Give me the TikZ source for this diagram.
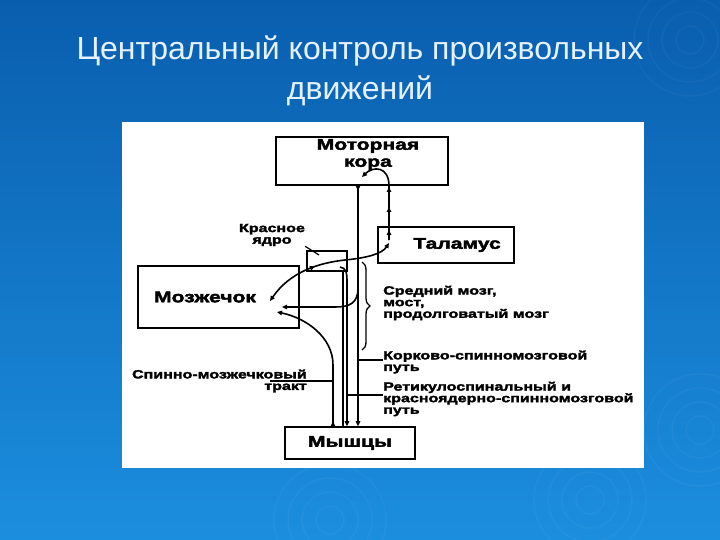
\documentclass[tikz,border=0pt]{standalone}
\usepackage{fontspec}
\setmainfont{Liberation Sans}
\newfontfamily\schemefont[FakeStretch=1.36,FakeBold=2.6]{Liberation Sans}
\usetikzlibrary{arrows.meta,decorations.pathreplacing,decorations.markings}
\definecolor{SlideTop}{HTML}{0A5EAE}
\definecolor{SlideBottom}{HTML}{1C8EDE}
\definecolor{TitleInk}{HTML}{E4F1FF}

\begin{document}
\begin{tikzpicture}[x=1pt,y=-1pt,
  block/.style={draw,line width=1.6pt,inner sep=0pt},
  blocktext/.style={font=\schemefont\bfseries\fontsize{15.5}{17}\selectfont,align=center,inner sep=0pt},
  note/.style={font=\schemefont\bfseries\fontsize{11.8}{11.6}\selectfont,inner sep=0pt},
  tract/.style={line width=1.6pt},
  leader/.style={line width=1.2pt},
  tipend/.style={-{Triangle[length=5pt,width=4.5pt]}},
  tipboth/.style={{Triangle[length=5pt,width=4.5pt]}-{Triangle[length=5pt,width=4.5pt]}},
  tiprev/.style={{Triangle[length=5pt,width=4.5pt,reversed]}-{Triangle[length=5pt,width=4.5pt]}}]
  \useasboundingbox (0,0) rectangle (720,540);
  % slide background
  \shade[top color=SlideTop,bottom color=SlideBottom] (0,0) rectangle (720,540);
  \foreach \cx/\cy in {690/40,700/430,590/500,330/520}
    \foreach \r in {14,28,42,56}
      \draw[white,opacity=0.035,line width=1.5pt] (\cx,\cy) circle (\r pt);
  \node[font=\fontsize{32}{36}\selectfont,text=TitleInk,anchor=base] (titleA) at (360,60) {Центральный контроль произвольных};
  \node[font=\fontsize{32}{36}\selectfont,text=TitleInk,anchor=base] (titleB) at (360,100) {движений};
  \fill[white] (122,122) rectangle (644,468);

  % boxes
  \node[block,minimum width=172pt,minimum height=48pt] (cortex) at (362,161) {};
  \node[blocktext] (cortexText) at (368,154.5) {Моторная\\кора};
  \node[block,minimum width=136pt,minimum height=36pt] (thal) at (446,245) {};
  \node[blocktext] (thalText) at (457,245) {Таламус};
  \node[block,minimum width=161pt,minimum height=62pt] (cb) at (218.5,297) {};
  \node[blocktext] (cbText) at (205,297) {Мозжечок};
  \node[block,line width=1.2pt,minimum width=40pt,minimum height=20pt] (rn) at (327,261) {};
  \node[block,minimum width=130pt,minimum height=32pt] (mu) at (350,443) {};
  \node[blocktext] (muText) at (350,443) {Мышцы};

  % labels
  \node[note,align=center] (rnLabel) at (272,235) {Красное\\ядро};
  \node[note,align=left,anchor=west] (midLabel) at (383,303) {Средний мозг,\\мост,\\продолговатый мозг};
  \node[note,align=left,anchor=west] (csLabel) at (383,362) {Корково-спинномозговой\\путь};
  \node[note,align=left,anchor=west] (rsLabel) at (383,399) {Ретикулоспинальный и\\красноядерно-спинномозговой\\путь};
  \node[note,align=right,anchor=east] (scLabel) at (307,381) {Спинно-мозжечковый\\тракт};

  \coordinate (thIn) at (389,240);
  \coordinate (thEnd) at (389,243);
  \coordinate (cbIn) at (270,301);
  \coordinate (cbSide) at (282,307);
  \coordinate (cbLow) at (277,312);
  \coordinate (csBranch) at (358,288);
  \coordinate (rnOut) at (340,267);
  \coordinate (rnPin) at (319,255);
  \coordinate (scPin) at (333,381);
  \coordinate (csPin) at (358,360);
  \coordinate (rsPin) at (347,395);

  % pathways
  \draw[tract,tiprev] (cortex.south -| 358,0) -- (mu.north -| 358,0);
  \draw[tract,tipend,postaction={decorate},decoration={markings,
      mark=at position 10pt with {\arrow{Triangle[length=5pt,width=4.5pt]}},
      mark=at position 33pt with {\arrow{Triangle[length=5pt,width=4.5pt]}},
      mark=at position 53pt with {\arrow{Triangle[length=5pt,width=4.5pt]}}}]
    (thIn) -- (389,186) .. controls (389,166) and (373,166) .. (362,177);
  \draw[tract,tipboth,postaction={decorate},decoration={markings,
      mark=at position 0.42 with {\arrow{Triangle[length=5pt,width=4.5pt]}}}]
    (cbIn) .. controls (290,272) and (318,263) .. (345,260)
    .. controls (366,258) and (382,254) .. (thEnd);
  \draw[tract,tipend] (csBranch) .. controls (358,303) and (350,307) .. (335,307) -- (cbSide);
  \draw[tract,tiprev] (mu.north -| 333,0) -- (333,365) .. controls (333,337) and (306,318) .. (cbLow);
  \draw[tract,tipend] (rnOut) .. controls (346,268) and (347,272) .. (347,282) -- (mu.north -| 347,0);
  \draw[tract] (rn.south -| 343,0) -- (mu.north -| 343,0);
  \draw[line width=1.3pt,decorate,decoration={brace,amplitude=8pt}] (362,262) -- (362,350);

  % leaders
  \draw[leader] (rnLabel.south east) -- (rnPin);
  \draw[leader] (scLabel.east -| 270,0) -- (scPin);
  \draw[leader] (csPin) -- (csPin -| csLabel.west);
  \draw[leader] (rsPin) -- (rsPin -| rsLabel.west);
\end{tikzpicture}
\end{document}
